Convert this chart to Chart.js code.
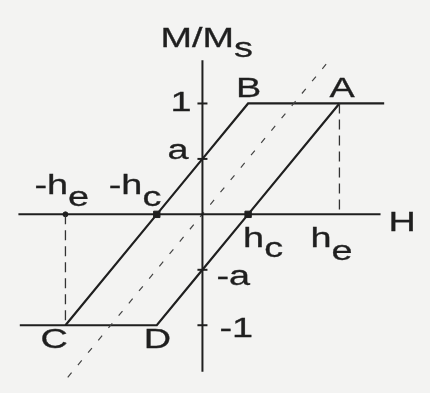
<!DOCTYPE html>
<html>
<head>
<meta charset="utf-8">
<script src="https://cdn.jsdelivr.net/npm/chart.js@4.4.1/dist/chart.umd.min.js"></script>
<style>
  html, body { margin: 0; padding: 0; background: #f3f3f2; }
  #wrap { width: 430px; height: 393px; position: relative; }
</style>
</head>
<body>
<div id="wrap"><canvas id="loopChart"></canvas></div>
<script>
// field values (h) and reduced magnetisation (M/Ms) of the loop
var outerH = [-4.0, -1, 0, 1, 3];        // bottom plateau -> D -> right branch -> A
var outerM = [-1, -1, -0.5, 0, 1];
var innerH = [-3, -1, 0, 1, 3.98];       // C -> left branch -> B -> top plateau
var innerM = [-1, 0, 0.5, 1, 1];
var diagH = [-2.95, 2.8];                // dashed reversible line
var diagM = [-1.47, 1.4];
var dropH = [3, 3, null, -3, -3];        // dashed guides from A and C
var dropM = [1, 0, null, 0, -1];
var hAxisH = [-4.03, 3.9];
var vAxisM = [-1.42, 1.39];
var tickM = [1, 0.5, -0.5, -1];
var coerH = [-1, 1];
var exchH = [-3];

function pts(xs, ys) {
  return xs.map(function(x, i){ return x === null ? {x: NaN, y: NaN} : {x: x, y: ys[i]}; });
}

var ink = '#1f1f1f';

// text labels: anchor point in data units, offset in px
var labels = [
  {t: 'M/M', s: 's', h: 0, m: 1.39, dx: -42, dy: -13, sd: 10},
  {t: 'B', h: 1, m: 1, dx: -12, dy: -6},
  {t: 'A', h: 3, m: 1, dx: -10, dy: -6},
  {t: '1', h: 0, m: 1, dx: -32, dy: 8},
  {t: 'a', h: 0, m: 0.5, dx: -35, dy: 0},
  {t: '-h', s: 'e', h: -3, m: 0, dx: -31, dy: -20, sd: 12},
  {t: '-h', s: 'c', h: -1, m: 0, dx: -48, dy: -20, sd: 12},
  {t: 'h', s: 'c', h: 1, m: 0, dx: -5, dy: 33, sd: 10},
  {t: 'h', s: 'e', h: 3, m: 0, dx: -29, dy: 33, sd: 13},
  {t: 'H', h: 3.9, m: 0, dx: 8, dy: 17},
  {t: '-a', h: 0, m: -0.5, dx: 14, dy: 15},
  {t: '-1', h: 0, m: -1, dx: 17, dy: 12},
  {t: 'C', h: -3, m: -1, dx: -25, dy: 23},
  {t: 'D', h: -1, m: -1, dx: -13, dy: 23}
];

var labelPlugin = {
  id: 'loopLabels',
  afterDatasetsDraw: function(chart) {
    var ctx = chart.ctx, xs = chart.scales.x, ys = chart.scales.y;
    var stretch = 1.4;
    ctx.save();
    ctx.fillStyle = ink;
    ctx.strokeStyle = ink;
    ctx.lineWidth = 0.3;
    ctx.font = '27px "Liberation Sans", Arial, sans-serif';
    ctx.textAlign = 'left';
    ctx.textBaseline = 'alphabetic';
    labels.forEach(function(l) {
      var x = xs.getPixelForValue(l.h) + l.dx;
      var y = ys.getPixelForValue(l.m) + l.dy;
      ctx.save();
      ctx.translate(x, y);
      ctx.scale(stretch, 1);
      ctx.fillText(l.t, 0, 0);
      ctx.strokeText(l.t, 0, 0);
      if (l.s) {
        var w = ctx.measureText(l.t).width;
        ctx.fillText(l.s, w, l.sd);
        ctx.strokeText(l.s, w, l.sd);
      }
      ctx.restore();
    });
    ctx.restore();
  }
};

new Chart(document.getElementById('loopChart'), {
  type: 'scatter',
  data: {
    datasets: [
      { data: pts(hAxisH, [0, 0]), showLine: true, borderColor: ink, borderWidth: 2, pointRadius: 0 },
      { data: pts([0, 0], vAxisM), showLine: true, borderColor: ink, borderWidth: 2, pointRadius: 0 },
      { data: pts(diagH, diagM), showLine: true, borderColor: '#444', borderWidth: 1.2, borderDash: [6, 10], pointRadius: 0 },
      { data: pts(dropH, dropM), showLine: true, spanGaps: false, borderColor: '#333', borderWidth: 1.3, borderDash: [10, 6], pointRadius: 0 },
      { data: pts(outerH, outerM), showLine: true, borderColor: ink, borderWidth: 2.2, pointRadius: 0 },
      { data: pts(innerH, innerM), showLine: true, borderColor: ink, borderWidth: 2.2, pointRadius: 0 },
      { data: pts(tickM.map(function(){ return 0; }), tickM), showLine: false, pointStyle: 'line',
        pointRadius: 5, borderColor: ink, borderWidth: 2 },
      { data: pts(coerH, [0, 0]), showLine: false, pointStyle: 'rect', pointRadius: 4.5,
        backgroundColor: ink, borderColor: ink, borderWidth: 1 },
      { data: pts(exchH, [0]), showLine: false, pointStyle: 'circle', pointRadius: 2.5,
        backgroundColor: ink, borderColor: ink, borderWidth: 1 }
    ]
  },
  options: {
    responsive: true,
    maintainAspectRatio: false,
    animation: false,
    events: [],
    layout: { padding: 0 },
    plugins: { legend: { display: false }, tooltip: { enabled: false } },
    scales: {
      x: { type: 'linear', display: false, min: -4.28, max: 4.83 },
      y: { type: 'linear', display: false, min: -1.548, max: 1.87 }
    }
  },
  plugins: [labelPlugin]
});
</script>
</body>
</html>
